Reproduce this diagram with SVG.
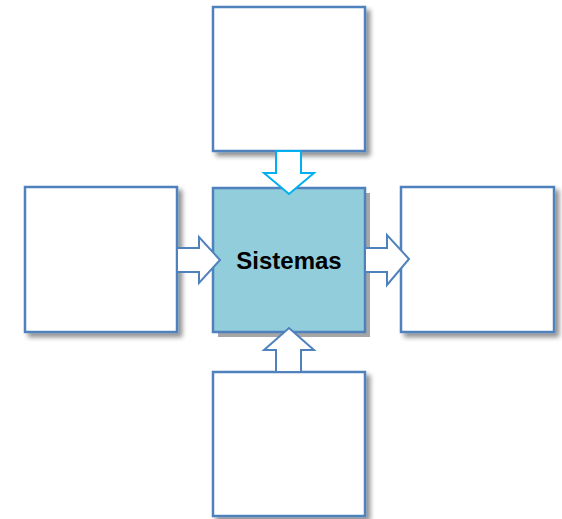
<svg xmlns="http://www.w3.org/2000/svg" width="562" height="519" viewBox="0 0 562 519">
<defs>
<filter id="soft" x="-10%" y="-10%" width="130%" height="130%">
<feGaussianBlur in="SourceAlpha" stdDeviation="2.5"/>
<feOffset dx="4" dy="4" result="b"/>
<feComponentTransfer><feFuncA type="linear" slope="0.45"/></feComponentTransfer>
<feMerge><feMergeNode/><feMergeNode in="SourceGraphic"/></feMerge>
</filter>
<style>
.box{fill:#fff;stroke:#4F81BD;stroke-width:2.5}
.center{fill:#92CDDC;stroke:#4F81BD;stroke-width:2.5}
.arr{fill:#fff;stroke:#4F81BD;stroke-width:2;stroke-linejoin:miter}
.arrc{fill:#fff;stroke:#00B0F0;stroke-width:2;stroke-linejoin:miter}
.lbl{font-family:"Liberation Sans",Arial,sans-serif;font-weight:bold;font-size:24px;fill:#000}
</style>
</defs>
<g id="top"><rect class="box" x="213" y="7" width="152" height="144" filter="url(#soft)"/></g>
<g id="left"><rect class="box" x="25" y="187" width="152" height="145" filter="url(#soft)"/></g>
<g id="right"><rect class="box" x="401" y="187" width="153" height="145" filter="url(#soft)"/></g>
<g id="bottom"><rect class="box" x="213" y="372" width="152" height="144" filter="url(#soft)"/></g>
<g id="center">
<rect x="218" y="193" width="152" height="144" fill="#A6A6A6"/>
<rect class="center" x="213" y="188" width="152" height="144"/>
<text class="lbl" x="289" y="269" text-anchor="middle">Sistemas</text>
</g>
<g id="connectors">
<path class="arrc" d="M276,151 L301,151 L301,173 L314,173 L289,194 L264,173 L276,173 Z"/>
<path class="arr" d="M177,248 L199,248 L199,237 L220,260 L199,283 L199,272 L177,272 Z"/>
<path class="arr" d="M365,248 L387,248 L387,235 L409,259 L387,285 L387,272 L365,272 Z"/>
<path class="arr" d="M276,372 L301,372 L301,350 L314,350 L289,328 L264,350 L276,350 Z"/>
</g>
</svg>
